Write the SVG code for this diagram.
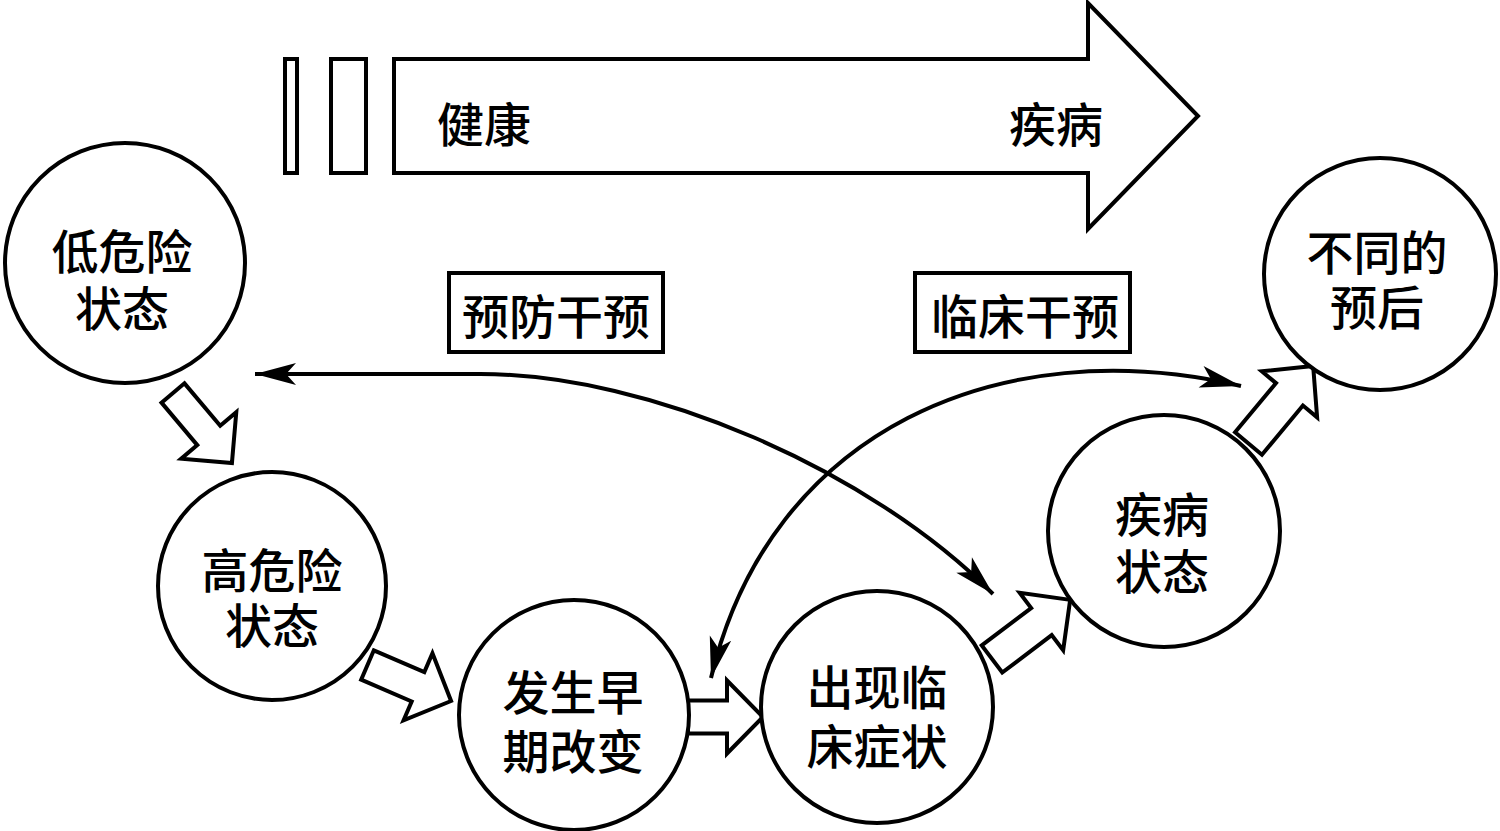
<svg xmlns="http://www.w3.org/2000/svg" width="1500" height="831" viewBox="0 0 1500 831">
<style>
.shape{fill:#fff;stroke:#000;stroke-width:4;stroke-linejoin:miter}
.blk{fill:#fff;stroke:#000;stroke-width:4;stroke-linejoin:miter}
.cur{fill:none;stroke:#000;stroke-width:4}
text{font-family:"Noto Sans CJK SC","Noto Sans CJK TC",sans-serif;font-size:47px;font-weight:500;fill:#000;text-anchor:middle}
</style>
<defs>
<marker id="ah" markerUnits="userSpaceOnUse" viewBox="-44 -14 46 28" refX="0" refY="0" markerWidth="46" markerHeight="28" orient="auto-start-reverse">
<path d="M0,0 L-41,-11 L-31,0 L-41,11 Z" fill="#000"/>
</marker>
</defs>
<g id="timeline">
<rect class="shape" x="285" y="59" width="12" height="114"/>
<rect class="shape" x="331" y="59" width="35" height="114"/>
<path class="shape" d="M394,59 H1088 V3 L1198,116 L1088,229 V173 H394 Z"/>
<text x="484" y="142">健康</text>
<text x="1056" y="142">疾病</text>
</g>
<g id="connectors">
<polygon class="blk" transform="translate(173,393) rotate(49.9)" points="0,-15 55.5,-15 55.5,-36 91.5,0 55.5,36 55.5,15 0,15"/>
<polygon class="blk" transform="translate(367.5,665) rotate(23.3)" points="0,-16 55,-16 55,-36.5 91,0 55,36.5 55,16 0,16"/>
<polygon class="blk" transform="translate(688,717) rotate(0)" points="0,-16.5 39,-16.5 39,-36.5 75,0 39,36.5 39,16.5 0,16.5"/>
<polygon class="blk" transform="translate(992,659) rotate(-37.1)" points="0,-17 62,-17 62,-36 98,0 62,36 62,17 0,17"/>
<polygon class="blk" transform="translate(1248.5,443.5) rotate(-50.2)" points="0,-17.5 64,-17.5 64,-36 101,0 64,36 64,17.5 0,17.5"/>
<path class="cur" d="M255,374 L480,374 C650,374 870,470 993,594" marker-start="url(#ah)" marker-end="url(#ah)"/>
<path class="cur" d="M711,678 C770,430 1000,330 1241,386" marker-start="url(#ah)" marker-end="url(#ah)"/>
</g>
<g id="box-prevention">
<rect class="shape" x="449" y="273" width="214" height="79"/>
<text x="556" y="334">预防干预</text>
</g>
<g id="box-clinical">
<rect class="shape" x="915" y="273" width="215" height="79"/>
<text x="1025" y="334">临床干预</text>
</g>
<g id="node-low">
<circle class="shape" cx="125" cy="263" r="120"/>
<text x="122" y="269">低危险<tspan x="122" dy="57">状态</tspan></text>
</g>
<g id="node-high">
<circle class="shape" cx="272" cy="586" r="114"/>
<text x="272" y="588">高危险<tspan x="272" dy="55">状态</tspan></text>
</g>
<g id="node-early">
<circle class="shape" cx="574" cy="715" r="115"/>
<text x="573" y="710">发生早<tspan x="573" dy="59">期改变</tspan></text>
</g>
<g id="node-symptom">
<circle class="shape" cx="877" cy="707" r="116"/>
<text x="877" y="705">出现临<tspan x="877" dy="59">床症状</tspan></text>
</g>
<g id="node-disease">
<circle class="shape" cx="1164" cy="531" r="116"/>
<text x="1162" y="532">疾病<tspan x="1162" dy="57">状态</tspan></text>
</g>
<g id="node-prognosis">
<circle class="shape" cx="1380" cy="274" r="116"/>
<text x="1377" y="270">不同的<tspan x="1377" dy="55">预后</tspan></text>
</g>
</svg>
